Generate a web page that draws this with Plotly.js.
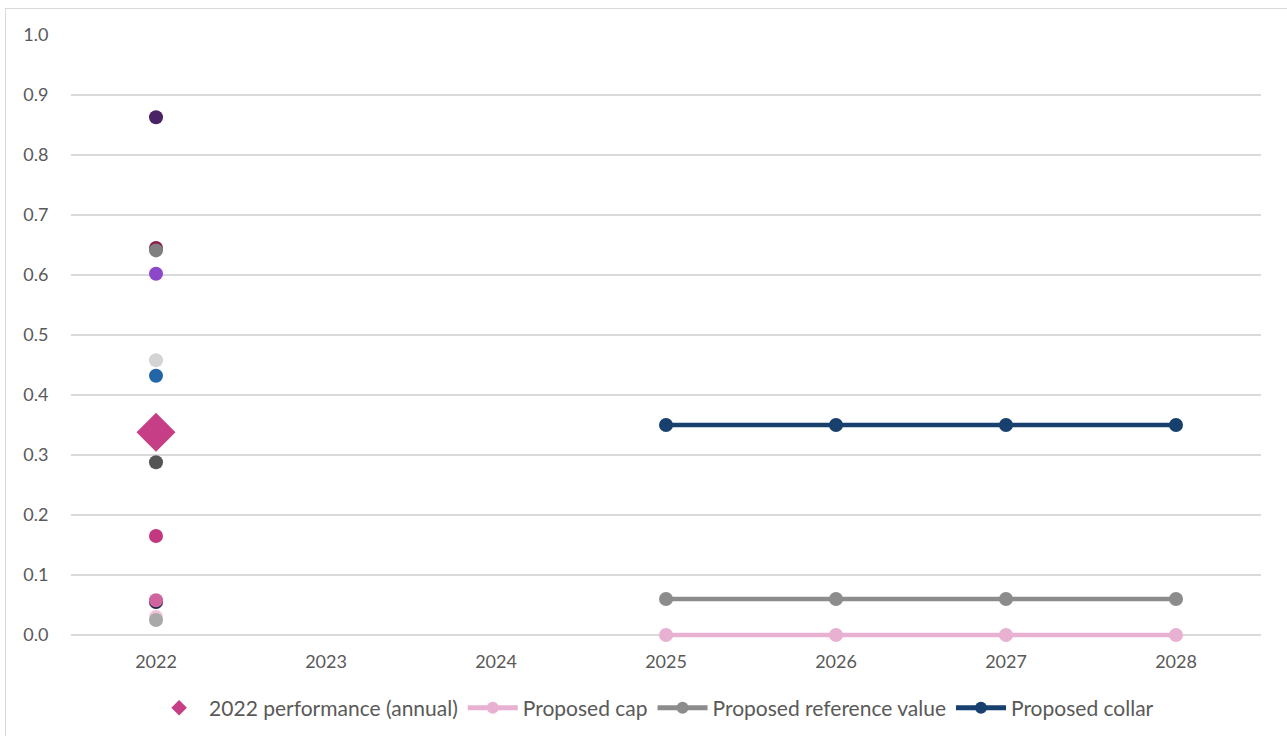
<!DOCTYPE html>
<html>
<head>
<meta charset="utf-8">
<script src="https://cdn.plot.ly/plotly-3.0.1.min.js"></script>
<style>
  html, body { margin: 0; padding: 0; background: #ffffff; }
  #wrap { position: relative; width: 1287px; height: 736px; overflow: hidden; }
  #frame { position: absolute; left: 5px; top: 8px; width: 1300px; height: 760px; border: 1.5px solid #d9d9d9; box-sizing: border-box; pointer-events: none; }
  #chart { position: absolute; left: 0; top: 0; width: 1287px; height: 736px; }
</style>
</head>
<body>
<div id="wrap">
  <div id="chart"></div>
  <div id="frame"></div>
</div>
<script>
// Categories (years)
const years = ['2022', '2023', '2024', '2025', '2026', '2027', '2028'];

// 2022 individual observations (coloured dots, not in legend)
const dotYears = ['2022','2022','2022','2022','2022','2022','2022','2022','2022','2022','2022','2022'];
const dotValues = [0.863, 0.645, 0.641, 0.602, 0.458, 0.432, 0.288, 0.165, 0.055, 0.058, 0.030, 0.025];
const dotColors = ['#4a2266', '#8b1c4b', '#7f7f7f', '#8c48c8', '#d4d4d4', '#2265a8', '#555555', '#c3387f', '#1f2a48', '#d0649e', '#efc3da', '#a9a9a9'];

// 2022 performance (annual)
const perfYears = ['2022'];
const perfValues = [0.338];

// Proposed lines
const lineYears = ['2025', '2026', '2027', '2028'];
const capValues = [0.0, 0.0, 0.0, 0.0];
const refValues = [0.06, 0.06, 0.06, 0.06];
const collarValues = [0.35, 0.35, 0.35, 0.35];

const yTicks = [0, 0.1, 0.2, 0.3, 0.4, 0.5, 0.6, 0.7, 0.8, 0.9, 1.0];
const yTickText = ['0.0', '0.1', '0.2', '0.3', '0.4', '0.5', '0.6', '0.7', '0.8', '0.9', '1.0'];

const FONT = 'Lato, "Open Sans", sans-serif';
const TXT = '#595959';

const traces = [
  {
    type: 'scatter', mode: 'markers', x: dotYears, y: dotValues,
    marker: { size: 14, color: dotColors, line: { width: 0 } },
    showlegend: false, hoverinfo: 'y', cliponaxis: false
  },
  {
    type: 'scatter', mode: 'markers', x: perfYears, y: perfValues,
    name: '2022 performance (annual)',
    marker: { symbol: 'diamond', size: 30, color: '#c63f86', line: { width: 0 } }
  },
  {
    type: 'scatter', mode: 'lines+markers', x: lineYears, y: capValues,
    name: 'Proposed cap', cliponaxis: false,
    line: { color: '#e9b1d1', width: 4.5 },
    marker: { size: 14, color: '#e9b1d1' }
  },
  {
    type: 'scatter', mode: 'lines+markers', x: lineYears, y: refValues,
    name: 'Proposed reference value',
    line: { color: '#8c8c8c', width: 4.5 },
    marker: { size: 14, color: '#8c8c8c' }
  },
  {
    type: 'scatter', mode: 'lines+markers', x: lineYears, y: collarValues,
    name: 'Proposed collar',
    line: { color: '#17406e', width: 4.5 },
    marker: { size: 14, color: '#17406e' }
  }
];

const layout = {
  width: 1287, height: 736,
  margin: { l: 71, r: 26, t: 35, b: 95, autoexpand: false },
  paper_bgcolor: 'rgba(0,0,0,0)',
  plot_bgcolor: '#ffffff',
  font: { family: FONT, color: TXT, size: 17 },
  xaxis: {
    type: 'category', categoryorder: 'array', categoryarray: years,
    range: [-0.5, 6.5],
    showgrid: false, zeroline: false, showline: false,
    ticks: 'outside', ticklen: 4, tickcolor: 'rgba(0,0,0,0)',
    tickfont: { family: FONT, size: 18, color: TXT }
  },
  yaxis: {
    range: [-0.01, 1.0],
    tickvals: yTicks, ticktext: yTickText,
    showgrid: true, gridcolor: '#d9d9d9', gridwidth: 1.5,
    zeroline: false, showline: false,
    ticks: 'outside', ticklen: 18, tickcolor: 'rgba(0,0,0,0)',
    tickfont: { family: FONT, size: 18, color: TXT }
  },
  showlegend: true,
  legend: {
    orientation: 'h', x: 0.49, xanchor: 'center',
    yref: 'container', y: 0.038, yanchor: 'middle',
    font: { family: FONT, size: 21, color: TXT },
    itemwidth: 50,
    itemsizing: 'constant', traceorder: 'normal', bgcolor: 'rgba(0,0,0,0)'
  }
};

Plotly.newPlot('chart', traces, layout, { displayModeBar: false, staticPlot: true });
</script>
</body>
</html>
